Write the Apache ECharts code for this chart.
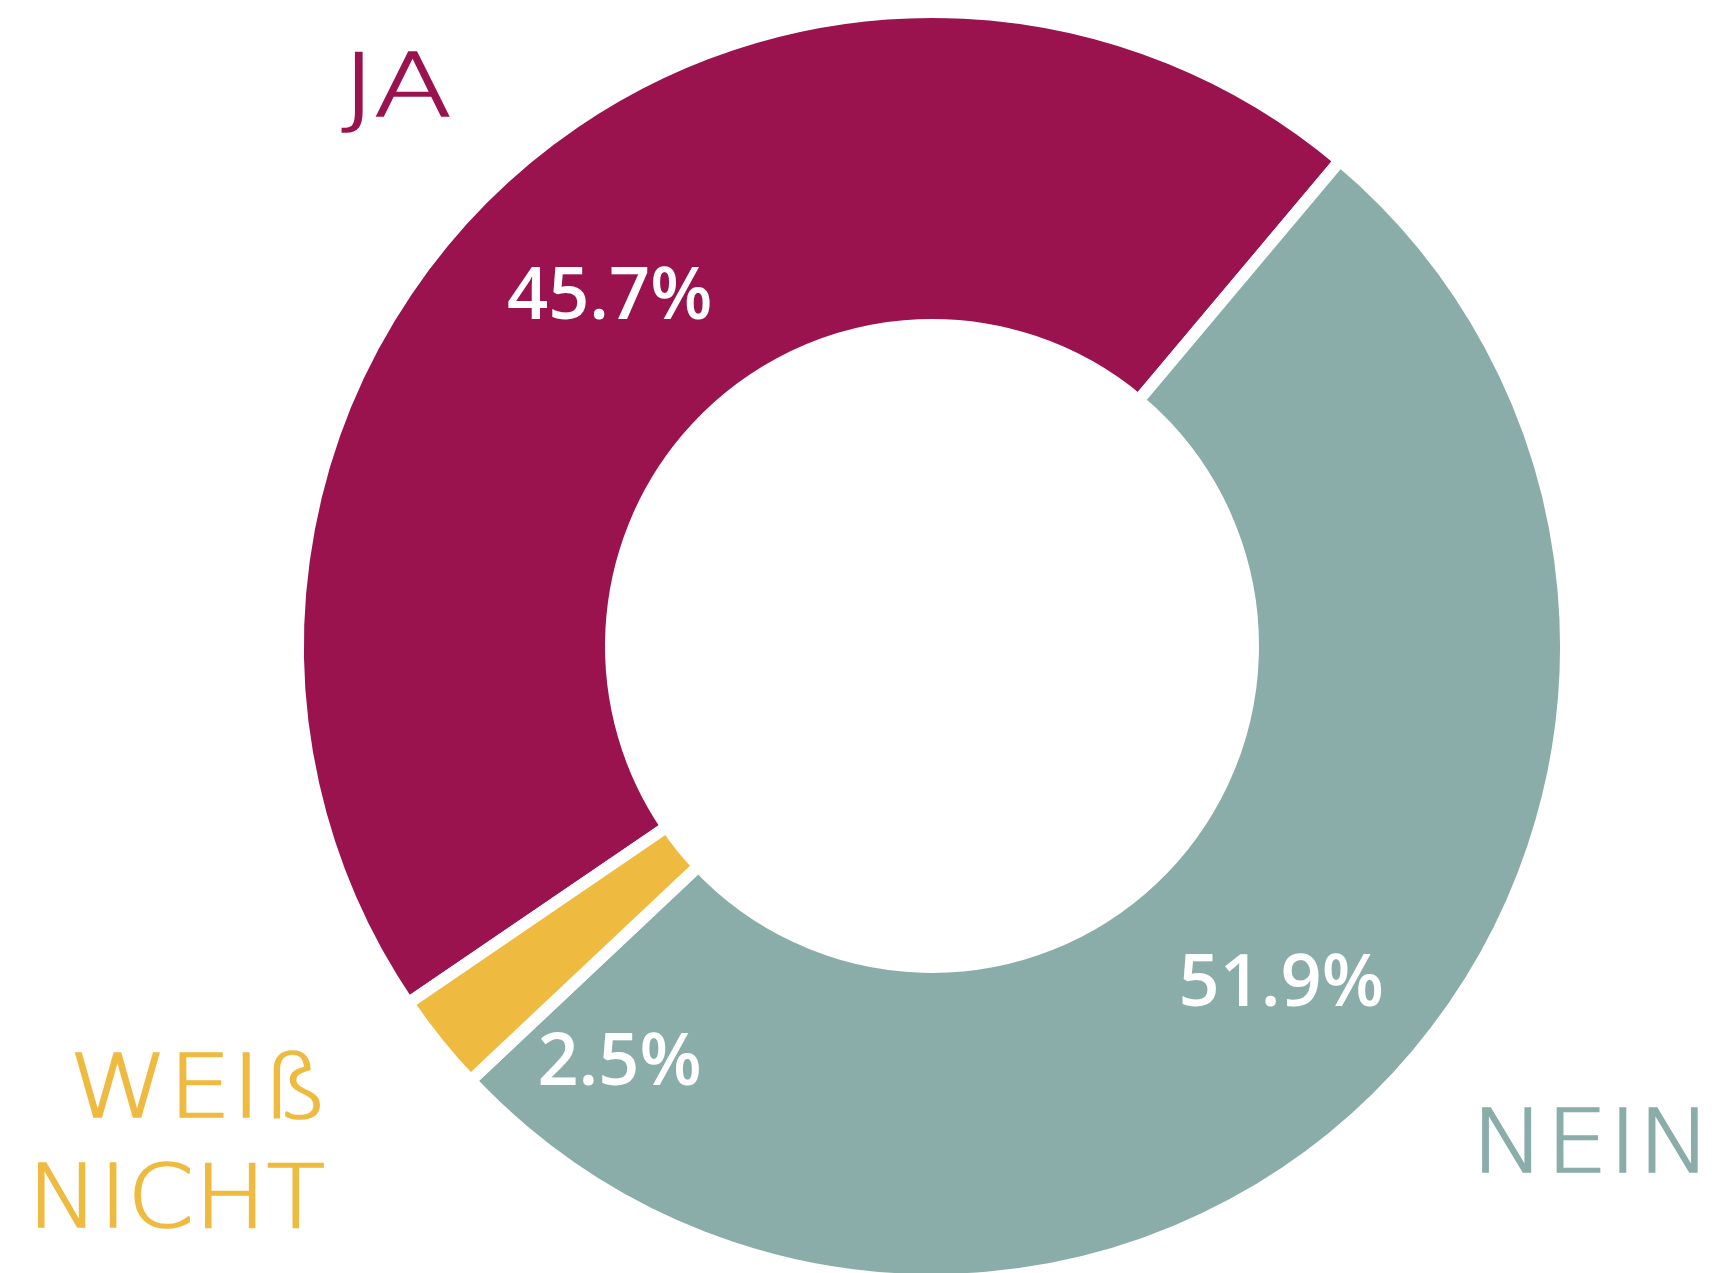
<!DOCTYPE html>
<html>
<head>
<meta charset="utf-8">
<script src="https://cdn.jsdelivr.net/npm/echarts@6/dist/echarts.min.js"></script>
<style>
html,body{margin:0;padding:0;background:#fff;}
#chart{width:1712px;height:1273px;}
</style>
</head>
<body>
<div id="chart"></div>
<script>
var categories = ['JA', 'NEIN', 'WEIß NICHT'];
var values = [45.7, 51.9, 2.5];
var colors = ['#9A134F', '#8BADAA', '#EFBA40'];

var chart = echarts.init(document.getElementById('chart'), null, {renderer: 'canvas'});

var catFont = '200 88px "DejaVu Sans", "Open Sans", sans-serif';

function catText(text, color, x, y, align, sx) {
  return {
    type: 'text', x: x, y: y, originX: 0, originY: 0, scaleX: sx,
    style: {text: text, fill: color, stroke: color, lineWidth: 1.6, font: catFont,
            textAlign: align, textVerticalAlign: 'middle'}
  };
}

chart.setOption({
  animation: false,
  backgroundColor: '#ffffff',
  series: [{
    type: 'pie',
    center: [932, 646],
    radius: [321, 634],
    startAngle: -145.7,
    clockwise: true,
    silent: true,
    emphasis: {scale: false},
    itemStyle: {borderColor: '#ffffff', borderWidth: 12},
    label: {
      show: true,
      position: 'inside',
      color: '#ffffff',
      fontFamily: '"Open Sans", "Noto Sans", sans-serif',
      fontWeight: 600,
      fontSize: 72,
      formatter: function (p) { return p.value.toFixed(1) + '%'; }
    },
    labelLine: {show: false},
    labelLayout: function (p) {
      if (p.dataIndex === 2) return {dx: 62, dy: 117};
      return {dy: 9};
    },
    data: categories.map(function (c, i) {
      return {name: c, value: values[i], itemStyle: {color: colors[i]}};
    })
  }],
  graphic: [
    catText('JA', colors[0], 342, 93, 'left', 1.3),
    catText('NEIN', colors[1], 1712, 1149, 'right', 1.13),
    catText('WEIß', colors[2], 329, 1094, 'right', 1.14),
    catText('NICHT', colors[2], 325, 1204, 'right', 1.09)
  ]
});
</script>
</body>
</html>
